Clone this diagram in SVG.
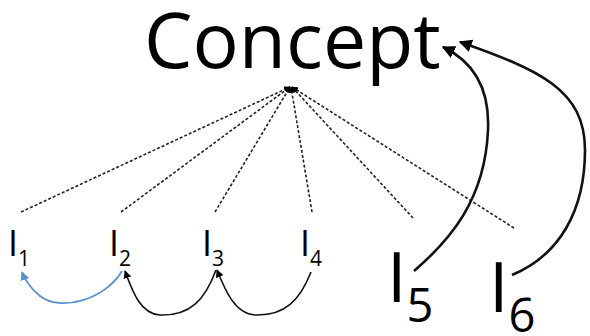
<svg xmlns="http://www.w3.org/2000/svg" width="590" height="336" viewBox="0 0 590 336">
<style>
.t{font-family:"Open Sans","Liberation Sans",sans-serif;fill:#000}
.d{stroke:#222;stroke-width:1.6;stroke-dasharray:3 2;fill:none}
.c{stroke:#111;stroke-width:1.6;fill:none}
.b{stroke:#111;stroke-width:2.6;fill:none}
</style>
<defs>
<marker id="ah" viewBox="0 0 10 10" refX="9" refY="5" markerWidth="5" markerHeight="5" orient="auto" markerUnits="strokeWidth"><path d="M0,0L10,5L0,10z" fill="#000"/></marker>
<marker id="ab" viewBox="0 0 10 10" refX="9" refY="5" markerWidth="5" markerHeight="5" orient="auto" markerUnits="strokeWidth"><path d="M0,0L10,5L0,10z" fill="#5b8fc7"/></marker>
<marker id="ak" viewBox="0 0 10 10" refX="9" refY="5" markerWidth="4" markerHeight="4" orient="auto" markerUnits="strokeWidth"><path d="M0,0L10,5L0,10z" fill="#000"/></marker>
</defs>
<g id="concept"><text class="t" x="144" y="68" font-size="77">Concept</text></g>
<g id="i1"><text class="t" x="8" y="256" font-size="36">I<tspan font-size="21" dy="10">1</tspan></text></g>
<g id="i2"><text class="t" x="109" y="256" font-size="36">I<tspan font-size="21" dy="10">2</tspan></text></g>
<g id="i3"><text class="t" x="202" y="256" font-size="36">I<tspan font-size="21" dy="10">3</tspan></text></g>
<g id="i4"><text class="t" x="300" y="256" font-size="36">I<tspan font-size="21" dy="10">4</tspan></text></g>
<g id="i5"><text class="t" x="387" y="302" font-size="70">I<tspan font-size="47" dy="20">5</tspan></text></g>
<g id="i6"><text class="t" x="489" y="312" font-size="70">I<tspan font-size="47" dy="20">6</tspan></text></g>
<g id="connectors">
<path class="d" d="M21,212L290,87" marker-end="url(#ak)"/>
<path class="d" d="M121,212L290,87" marker-end="url(#ak)"/>
<path class="d" d="M215,212L290,87" marker-end="url(#ak)"/>
<path class="d" d="M312,212L291,87" marker-end="url(#ak)"/>
<path class="d" d="M413,218L292,87" marker-end="url(#ak)"/>
<path class="d" d="M514,228L292,87" marker-end="url(#ak)"/>
<path d="M122,271C105,300 60,312 40,296C30,288 25,280 22,272" stroke="#5b8fc7" stroke-width="1.8" fill="none" marker-end="url(#ab)"/>
<path class="c" d="M216,270C205,300 190,316 160,315C140,314 132,290 125,271" marker-end="url(#ah)"/>
<path class="c" d="M311,272C300,300 285,316 255,315C235,314 225,290 217,270" marker-end="url(#ah)"/>
<path class="b" d="M414,271C450,240 485,200 488,130C490,85 470,60 443,47" marker-end="url(#ah)"/>
<path class="b" d="M512,275C560,255 585,210 585,150C585,90 540,70 460,42" marker-end="url(#ah)"/>
</g>
</svg>
